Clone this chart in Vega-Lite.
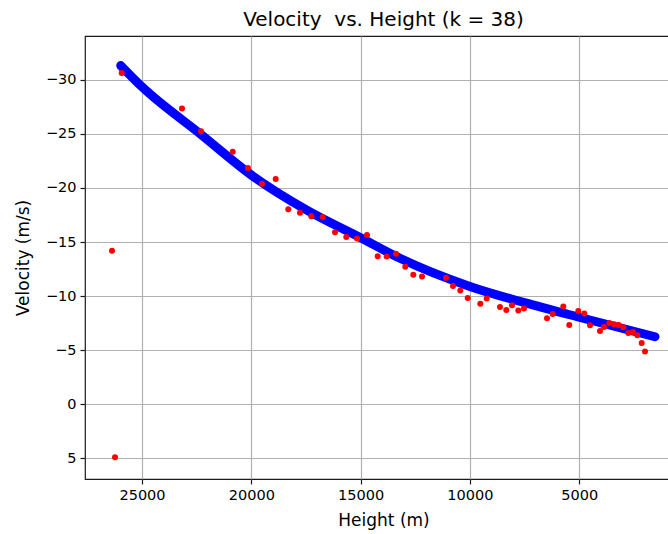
{
  "$schema": "https://vega.github.io/schema/vega-lite/v6.json",
  "autosize": "none",
  "width": 597,
  "height": 443,
  "padding": {"left": 85, "top": 36, "right": 0, "bottom": 55},
  "background": "white",
  "config": {
    "font": "DejaVu Sans",
    "view": {"stroke": "#1a1a1a", "strokeWidth": 1.2},
    "axis": {
      "labelFont": "DejaVu Sans",
      "titleFont": "DejaVu Sans",
      "labelFontSize": 14.5,
      "titleFontSize": 17,
      "titleFontWeight": "normal",
      "labelColor": "#000",
      "titleColor": "#000",
      "domain": false,
      "tickColor": "#1a1a1a",
      "tickWidth": 1.2,
      "tickSize": 5,
      "labelPadding": 4,
      "gridColor": "#b0b0b0",
      "gridWidth": 1.2,
      "gridOpacity": 1
    }
  },
  "title": {
    "text": "Velocity\u00a0 vs. Height (k = 38)",
    "font": "DejaVu Sans",
    "fontSize": 20,
    "fontWeight": "normal",
    "color": "#000",
    "anchor": "middle",
    "offset": 6
  },
  "datasets": {
    "curve": [
      {"height": 25974, "velocity": -31.32},
      {"height": 25000, "velocity": -29.35},
      {"height": 22301, "velocity": -24.95},
      {"height": 20000, "velocity": -21.2},
      {"height": 17500, "velocity": -18.0},
      {"height": 15000, "velocity": -15.4},
      {"height": 13197, "velocity": -13.5},
      {"height": 10000, "velocity": -10.9},
      {"height": 7500, "velocity": -9.4},
      {"height": 5000, "velocity": -8.05},
      {"height": 1530, "velocity": -6.25}
    ],
    "points": [
      {"height": 26372, "velocity": -14.2},
      {"height": 26235, "velocity": 4.88},
      {"height": 25929, "velocity": -30.62},
      {"height": 23170, "velocity": -27.34},
      {"height": 22301, "velocity": -25.25},
      {"height": 20850, "velocity": -23.36},
      {"height": 20151, "velocity": -21.85},
      {"height": 19510, "velocity": -20.4},
      {"height": 18883, "velocity": -20.83},
      {"height": 18307, "velocity": -18.03},
      {"height": 17772, "velocity": -17.72},
      {"height": 17255, "velocity": -17.38},
      {"height": 16733, "velocity": -17.31},
      {"height": 16170, "velocity": -15.9},
      {"height": 15653, "velocity": -15.46},
      {"height": 15164, "velocity": -15.34},
      {"height": 14706, "velocity": -15.65},
      {"height": 14217, "velocity": -13.7},
      {"height": 13805, "velocity": -13.67},
      {"height": 13380, "velocity": -13.92},
      {"height": 12954, "velocity": -12.71},
      {"height": 12588, "velocity": -11.97},
      {"height": 12190, "velocity": -11.82},
      {"height": 11092, "velocity": -11.7},
      {"height": 10772, "velocity": -10.95},
      {"height": 10438, "velocity": -10.52},
      {"height": 10099, "velocity": -9.84},
      {"height": 9523, "velocity": -9.29},
      {"height": 9230, "velocity": -9.79},
      {"height": 8622, "velocity": -9.01},
      {"height": 8333, "velocity": -8.73},
      {"height": 8073, "velocity": -9.17},
      {"height": 7784, "velocity": -8.67},
      {"height": 7524, "velocity": -8.86},
      {"height": 6471, "velocity": -7.96},
      {"height": 6211, "velocity": -8.36},
      {"height": 5726, "velocity": -9.05},
      {"height": 5451, "velocity": -7.34},
      {"height": 5039, "velocity": -8.64},
      {"height": 4765, "velocity": -8.4},
      {"height": 4504, "velocity": -7.31},
      {"height": 4047, "velocity": -6.79},
      {"height": 3864, "velocity": -7.16},
      {"height": 3620, "velocity": -7.53},
      {"height": 3406, "velocity": -7.41},
      {"height": 3191, "velocity": -7.34},
      {"height": 2980, "velocity": -7.13},
      {"height": 2751, "velocity": -6.6},
      {"height": 2537, "velocity": -6.69},
      {"height": 2340, "velocity": -6.39},
      {"height": 2138, "velocity": -5.68},
      {"height": 1988, "velocity": -4.88}
    ]
  },
  "encoding": {
    "x": {
      "field": "height",
      "type": "quantitative",
      "title": "Height (m)",
      "scale": {"domain": [295, 27608], "reverse": true, "nice": false, "zero": false},
      "axis": {"values": [25000, 20000, 15000, 10000, 5000], "format": "d", "titlePadding": 11}
    },
    "y": {
      "field": "velocity",
      "type": "quantitative",
      "title": "Velocity (m/s)",
      "scale": {"domain": [-34.05, 6.9], "reverse": true, "nice": false, "zero": false},
      "axis": {"values": [-30, -25, -20, -15, -10, -5, 0, 5], "format": "d", "titlePadding": 13}
    }
  },
  "layer": [
    {
      "data": {"name": "curve"},
      "mark": {"type": "line", "color": "#0000ff", "strokeWidth": 9, "strokeCap": "round", "strokeJoin": "round", "interpolate": "monotone", "clip": true}
    },
    {
      "data": {"name": "points"},
      "mark": {"type": "circle", "color": "#ff0000", "size": 36, "opacity": 1}
    }
  ]
}
